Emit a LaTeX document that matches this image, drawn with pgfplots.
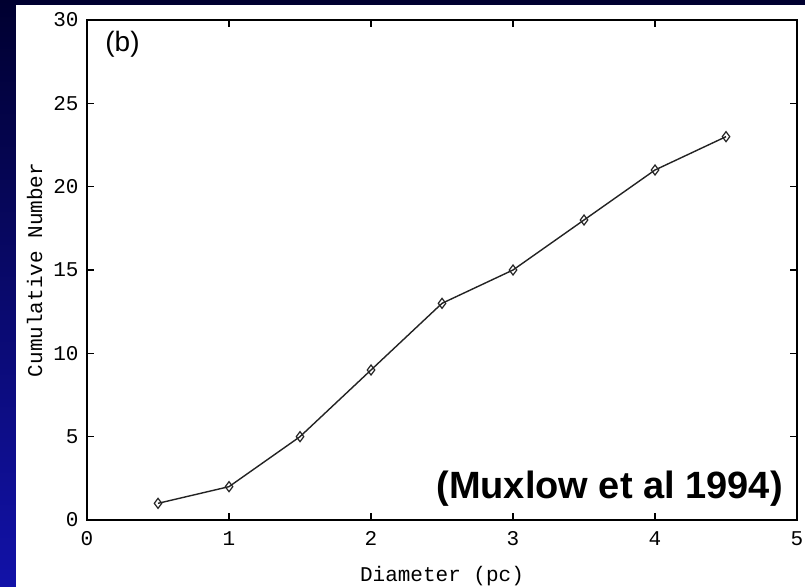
\documentclass[border=0pt]{standalone}
\usepackage{pgfplots}
\pgfplotsset{compat=1.18}
\usepackage{fontspec}
\setmainfont{Liberation Sans}
\setmonofont{Liberation Mono}
\definecolor{slidetop}{RGB}{0,0,48}
\definecolor{slidebot}{RGB}{18,18,168}
\definecolor{inkline}{RGB}{35,35,35}
\begin{document}
\begin{tikzpicture}[x=1pt,y=1pt]
  \useasboundingbox (0,0) rectangle (805,586);
  % slide background and white panel
  \shade[top color=slidetop, bottom color=slidebot] (0,0) rectangle (805,586);
  \fill[white] (16,-5) rectangle (810,581);
  \begin{axis}[
    at={(87pt,66pt)}, anchor=south west,
    scale only axis, width=710pt, height=500pt,
    xmin=0, xmax=5, ymin=0, ymax=30,
    xtick={0,1,2,3,4,5}, ytick={0,5,10,15,20,25,30},
    tick align=inside, major tick length=7pt,
    axis line style={line width=1.5pt, black},
    every tick/.style={line width=1.3pt, black},
    /pgf/number format/assume math mode=true,
    ticklabel style={font=\fontsize{21}{21}\selectfont\ttfamily},
    xticklabel style={yshift=-8pt},
    yticklabel style={xshift=-5pt},
    xlabel={Diameter (pc)}, ylabel={Cumulative Number},
    label style={font=\fontsize{21}{21}\selectfont\ttfamily},
    xlabel style={yshift=-14pt},
    ylabel style={yshift=4pt},
    clip=false,
  ]
    \addplot[color=inkline, line width=1.4pt, mark=diamond,
             mark size=5pt, mark options={line width=1.2pt, fill=white}]
      coordinates {
        (0.5,1) (1,2) (1.5,5) (2,9) (2.5,13)
        (3,15) (3.5,18) (4,21) (4.5,23)
      };
    \node[font=\fontsize{28}{28}\selectfont, anchor=center]
      at (axis cs:0.25,28.55) {(b)};
    \node[font=\fontsize{38}{38}\selectfont\bfseries, anchor=center]
      at (axis cs:3.68,1.85) {(Muxlow et al 1994)};
  \end{axis}
\end{tikzpicture}
\end{document}
